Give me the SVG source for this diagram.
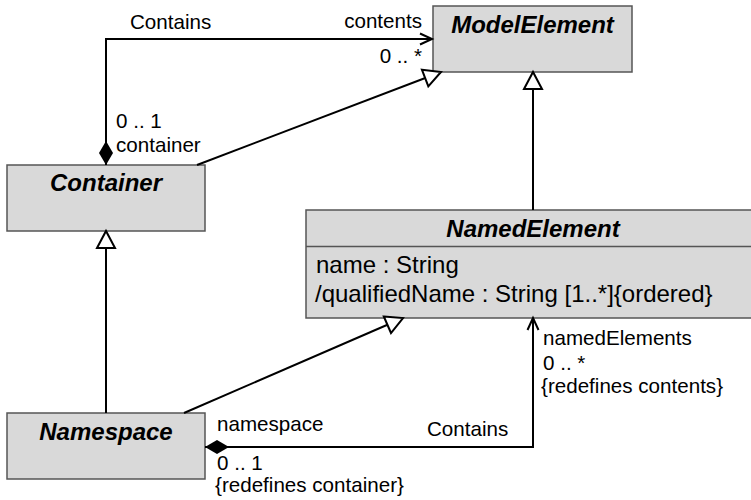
<svg xmlns="http://www.w3.org/2000/svg" width="751" height="500" viewBox="0 0 751 500">
  <style>
    .box { fill: #d9d9d9; stroke: #555555; stroke-width: 1.5; }
    .title { font-family: "Liberation Sans", Arial, sans-serif; font-size: 24px; font-weight: bold; font-style: italic; fill: #000; text-anchor: middle; }
    .attr { font-family: "Liberation Sans", Arial, sans-serif; font-size: 24px; fill: #000; }
    .lbl { font-family: "Liberation Sans", Arial, sans-serif; font-size: 20.6px; fill: #000; }
    .end { text-anchor: end; }
    .edge { fill: none; stroke: #000; stroke-width: 2; }
  </style>
  <defs>
    <!-- hollow triangle for generalization -->
    <marker id="gen" markerUnits="userSpaceOnUse" viewBox="0 0 18 18" refX="17" refY="9" markerWidth="18" markerHeight="18" orient="auto" overflow="visible">
      <path d="M0,0 L17,9 L0,18 Z" fill="#fff" stroke="#000" stroke-width="2" stroke-linejoin="miter"/>
    </marker>
    <!-- filled diamond for composition -->
    <marker id="comp" markerUnits="userSpaceOnUse" viewBox="0 0 24 14" refX="0" refY="7" markerWidth="24" markerHeight="14" orient="auto" overflow="visible">
      <path d="M0,7 L12,0 L24,7 L12,14 Z" fill="#000"/>
    </marker>
    <!-- open navigability arrow -->
    <marker id="nav" markerUnits="userSpaceOnUse" viewBox="0 0 12 12" refX="12" refY="6" markerWidth="12" markerHeight="12" orient="auto" overflow="visible">
      <path d="M0,0.5 L12,6 L0,11.5" fill="none" stroke="#000" stroke-width="2"/>
    </marker>
  </defs>

  <g id="ModelElement">
    <rect class="box" x="433" y="6" width="199" height="66"/>
    <text class="title" x="532.5" y="33">ModelElement</text>
  </g>

  <g id="Container">
    <rect class="box" x="7" y="165" width="198" height="66"/>
    <text class="title" x="106" y="191">Container</text>
  </g>

  <g id="NamedElement">
    <rect class="box" x="306" y="210" width="460" height="108"/>
    <line x1="306" y1="246.5" x2="766" y2="246.5" stroke="#555555" stroke-width="1.5"/>
    <text class="title" x="533" y="237">NamedElement</text>
    <text class="attr" x="316" y="273">name : String</text>
    <text class="attr" x="315" y="302">/qualifiedName : String [1..*]{ordered}</text>
  </g>

  <g id="Namespace">
    <rect class="box" x="7" y="413" width="198" height="66"/>
    <text class="title" x="106" y="440">Namespace</text>
  </g>

  <g id="connectors">
    <!-- Container contains ModelElement -->
    <path class="edge" d="M106,165 V39 H432" marker-start="url(#comp)" marker-end="url(#nav)"/>
    <!-- generalizations -->
    <line class="edge" x1="197" y1="165" x2="441" y2="72" marker-end="url(#gen)"/>
    <line class="edge" x1="533" y1="210" x2="533" y2="72" marker-end="url(#gen)"/>
    <line class="edge" x1="106" y1="413" x2="106" y2="231" marker-end="url(#gen)"/>
    <line class="edge" x1="184" y1="413" x2="403" y2="318" marker-end="url(#gen)"/>
    <!-- Namespace contains NamedElement -->
    <path class="edge" d="M205,447 H533 V318" marker-start="url(#comp)" marker-end="url(#nav)"/>
  </g>

  <g id="labels">
    <text class="lbl" x="130" y="29">Contains</text>
    <text class="lbl end" x="422" y="28">contents</text>
    <text class="lbl end" x="422" y="63">0 .. *</text>
    <text class="lbl" x="116" y="128">0 .. 1</text>
    <text class="lbl" x="116" y="152">container</text>
    <text class="lbl" x="217" y="431">namespace</text>
    <text class="lbl" x="217" y="470">0 .. 1</text>
    <text class="lbl" x="215" y="492">{redefines container}</text>
    <text class="lbl" x="427" y="436">Contains</text>
    <text class="lbl" x="543" y="345">namedElements</text>
    <text class="lbl" x="543" y="370">0 .. *</text>
    <text class="lbl" x="541" y="393">{redefines contents}</text>
  </g>
</svg>
